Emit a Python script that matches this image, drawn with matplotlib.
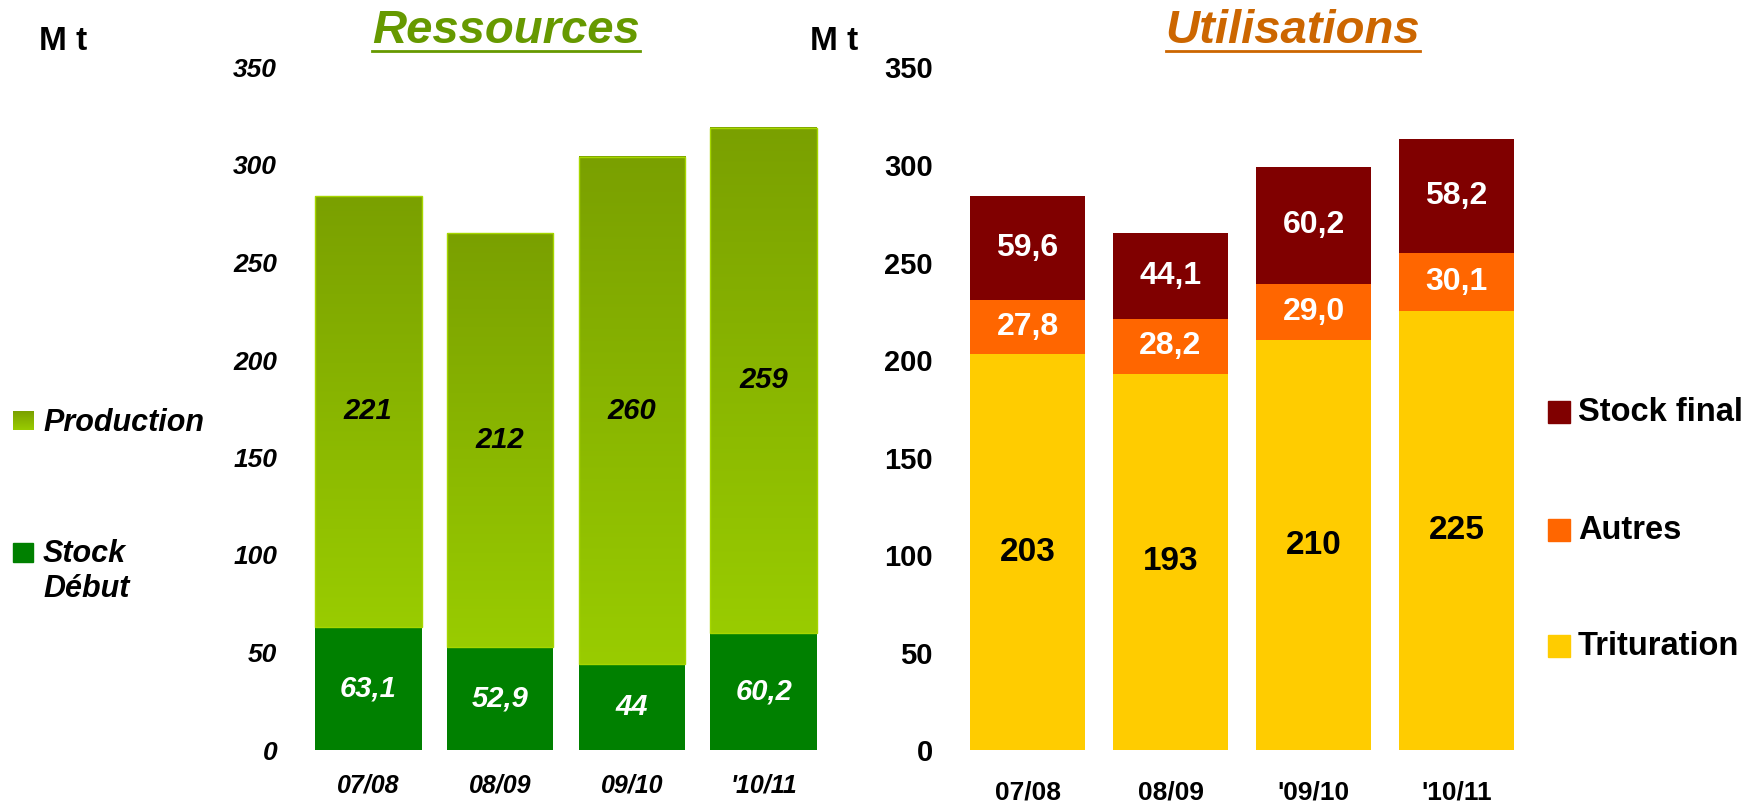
import numpy as np
import matplotlib
matplotlib.use("Agg")
import matplotlib.pyplot as plt
from matplotlib.colors import LinearSegmentedColormap
from matplotlib.patches import Rectangle
from matplotlib.lines import Line2D

plt.rcParams['font.family'] = ['Liberation Sans', 'DejaVu Sans']

# =============================
#  Data
# =============================
campagnes_res = ["07/08", "08/09", "09/10", "'10/11"]
stock_debut = [63.1, 52.9, 44, 60.2]
production = [221, 212, 260, 259]

campagnes_uti = ["07/08", "08/09", "'09/10", "'10/11"]
trituration = [203, 193, 210, 225]
autres = [27.8, 28.2, 29.0, 30.1]
stock_final = [53.3, 44.1, 60.2, 58.2]          # hauteur
stock_final_txt = ["59,6", "44,1", "60,2", "58,2"]  # etiquettes affichees

yticks = [0, 50, 100, 150, 200, 250, 300, 350]

W, H = 1751, 805
def fx(px): return px / W
def fy(py): return 1 - py / H

def fr(v):
    return f"{v:g}".replace(".", ",")

fig = plt.figure(figsize=(W / 100, H / 100), dpi=100)

# =============================
#  Ressources (gauche)
# =============================
ax1 = fig.add_axes([fx(289), 55 / H, 554 / W, 682.5 / H])
x = np.arange(len(campagnes_res))
w1 = 0.81

b_stock = ax1.bar(x, stock_debut, w1, color="#008000", zorder=2)
b_prod = ax1.bar(x, production, w1, bottom=stock_debut, facecolor="none",
                 edgecolor="#a6d600", linewidth=1, zorder=2)

cmap_g = LinearSegmentedColormap.from_list("g", ["#99cc00", "#7aa000"])
grad = np.linspace(0, 1, 256).reshape(-1, 1)
for b in b_prod:
    ax1.imshow(grad, extent=[b.get_x(), b.get_x() + b.get_width(),
                             b.get_y(), b.get_y() + b.get_height()],
               origin="lower", aspect="auto", cmap=cmap_g, zorder=1)

ax1.bar_label(b_stock, labels=[fr(v) for v in stock_debut], label_type="center",
              color="white", fontsize=21, fontweight="bold", fontstyle="italic")
ax1.bar_label(b_prod, labels=[fr(v) for v in production], label_type="center",
              color="black", fontsize=21, fontweight="bold", fontstyle="italic")

ax1.set_xlim(-0.6, 3.6)
ax1.set_ylim(0, 350)
ax1.set_yticks(yticks)
ax1.set_yticklabels([str(t) for t in yticks], fontsize=19, fontweight="bold", fontstyle="italic")
ax1.set_xticks(x)
ax1.set_xticklabels(campagnes_res, fontsize=18, fontweight="bold", fontstyle="italic")
ax1.tick_params(axis="y", length=0, pad=8.6)
ax1.tick_params(axis="x", length=0, pad=17)
for s in ax1.spines.values():
    s.set_visible(False)

# =============================
#  Utilisations (droite)
# =============================
ax2 = fig.add_axes([fx(941.7), 55 / H, 600.6 / W, 682.5 / H])
x2 = np.arange(len(campagnes_uti))
w2 = 0.804
bas2 = np.array(trituration) + np.array(autres)

b_tri = ax2.bar(x2, trituration, w2, color="#ffcc00")
b_aut = ax2.bar(x2, autres, w2, bottom=trituration, color="#ff6600")
b_sf = ax2.bar(x2, stock_final, w2, bottom=bas2, color="#800000")

ax2.bar_label(b_tri, labels=[fr(v) for v in trituration], label_type="center",
              color="black", fontsize=24, fontweight="bold")
ax2.bar_label(b_aut, labels=[f"{v:.1f}".replace(".", ",") for v in autres],
              label_type="center", color="white", fontsize=23, fontweight="bold")
ax2.bar_label(b_sf, labels=stock_final_txt, label_type="center",
              color="white", fontsize=23, fontweight="bold")

ax2.set_xlim(-0.6, 3.6)
ax2.set_ylim(0, 350)
ax2.set_yticks(yticks)
ax2.set_yticklabels([str(t) for t in yticks], fontsize=21, fontweight="bold")
ax2.set_xticks(x2)
ax2.set_xticklabels(campagnes_uti, fontsize=19, fontweight="bold")
ax2.tick_params(axis="y", length=0, pad=6.3)
ax2.tick_params(axis="x", length=0, pad=22)
for s in ax2.spines.values():
    s.set_visible(False)

# =============================
#  Titres / unites
# =============================
t1 = fig.text(fx(506), fy(43), "Ressources", ha="center", va="baseline",
              fontsize=34, fontweight="bold", fontstyle="italic", color="#669900")
t2 = fig.text(fx(1293), fy(43), "Utilisations", ha="center", va="baseline",
              fontsize=34, fontweight="bold", fontstyle="italic", color="#cc6600")
fig.text(fx(63), fy(42), "M t", ha="center", va="center", fontsize=24, fontweight="bold")
fig.text(fx(834), fy(42), "M t", ha="center", va="center", fontsize=24, fontweight="bold")

# =============================
#  Legendes
# =============================
# gauche
lg = fig.add_axes([fx(13), fy(430), 20 / W, 19 / H])
lg.imshow(grad, origin="lower", aspect="auto", cmap=cmap_g)
lg.axis("off")
fig.add_artist(Rectangle((fx(13), fy(562)), 20 / W, 19 / H,
                         transform=fig.transFigure, color="#008000"))
leg_kw = dict(fontsize=22, fontweight="bold", fontstyle="italic", va="baseline", ha="left")
fig.text(fx(43), fy(431), "Production", **leg_kw)
fig.text(fx(43), fy(562), "Stock", **leg_kw)
fig.text(fx(43), fy(597), "Début", **leg_kw)

# droite
leg_r = [("Stock final", "#800000", 412), ("Autres", "#ff6600", 530),
         ("Trituration", "#ffcc00", 646)]
for nom, col, yc in leg_r:
    fig.add_artist(Rectangle((fx(1548), fy(yc + 11)), 22 / W, 22 / H,
                             transform=fig.transFigure, color=col))
    fig.text(fx(1578), fy(yc), nom, fontsize=23.5, fontweight="bold",
             va="center", ha="left")

# soulignement des titres
fig.canvas.draw()
for t, col in [(t1, "#669900"), (t2, "#cc6600")]:
    bb = t.get_window_extent()
    fig.add_artist(Line2D([bb.x0 / W, bb.x1 / W], [fy(51), fy(51)],
                          transform=fig.transFigure, color=col, linewidth=2))

fig.savefig("out.png", dpi=100)
